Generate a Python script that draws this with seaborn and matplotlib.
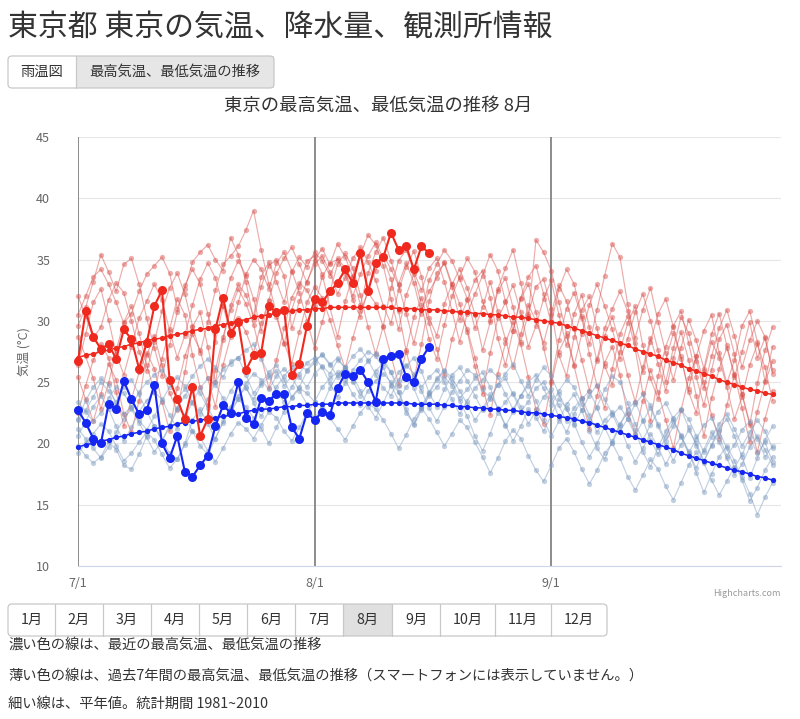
import numpy as np
import pandas as pd
import matplotlib
matplotlib.use("Agg")
import matplotlib.pyplot as plt
from matplotlib.patches import FancyBboxPatch, Rectangle
import seaborn as sns

# ---------------- data ----------------
x_tick_labels = ["7/1", "8/1", "9/1"]
x_tick_days = [0, 31, 62]
y_ticks = [10, 15, 20, 25, 30, 35, 40, 45]
months = ["1月", "2月", "3月", "4月", "5月", "6月", "7月", "8月", "9月", "10月", "11月", "12月"]

# recent year (dark lines), 7/1 - 8/16
recent_max = [26.7, 30.8, 28.7, 27.7, 28.1, 26.9, 29.3, 28.5, 26.1, 28.2,
              31.2, 32.5, 25.2, 23.6, 22.0, 24.6, 20.6, 22.0, 29.3, 31.9,
              29.0, 29.9, 26.0, 27.2, 27.4, 31.2, 30.7, 30.9, 25.6, 26.5,
              29.6, 31.8, 31.5, 32.4, 33.1, 34.2, 33.1, 35.5, 32.4, 34.7,
              35.2, 37.2, 35.8, 36.1, 34.2, 36.1, 35.5]
recent_min = [22.7, 21.7, 20.4, 20.0, 23.2, 22.8, 25.1, 23.6, 22.4, 22.7,
              24.8, 20.0, 18.8, 20.6, 17.7, 17.3, 18.2, 19.0, 21.4, 23.1,
              22.5, 25.0, 22.1, 21.6, 23.7, 23.5, 24.0, 24.0, 21.3, 20.4,
              22.5, 21.9, 22.6, 22.3, 24.5, 25.7, 25.5, 26.0, 25.0, 23.4,
              26.9, 27.1, 27.3, 25.4, 25.0, 26.9, 27.9]

# normals 1981-2010, 7/1 - 9/30
normal_max = [27.0, 27.2, 27.3, 27.5, 27.6, 27.8, 27.9, 28.1, 28.2, 28.4,
              28.5, 28.6, 28.8, 28.9, 29.0, 29.2, 29.3, 29.4, 29.6, 29.7,
              29.8, 30.0, 30.1, 30.3, 30.4, 30.5, 30.6, 30.7, 30.8, 30.9,
              30.9, 31.0, 31.0, 31.1, 31.1, 31.1, 31.1, 31.1, 31.1, 31.1,
              31.1, 31.1, 31.0, 31.0, 31.0, 30.9, 30.9, 30.9, 30.8, 30.8,
              30.7, 30.7, 30.6, 30.6, 30.5, 30.5, 30.4, 30.3, 30.3, 30.2,
              30.1, 30.0, 29.9, 29.8, 29.6, 29.4, 29.2, 29.0, 28.8, 28.6,
              28.4, 28.2, 28.0, 27.7, 27.5, 27.3, 27.1, 26.8, 26.6, 26.4,
              26.1, 25.9, 25.7, 25.5, 25.2, 25.0, 24.8, 24.6, 24.4, 24.3,
              24.1, 24.0]
normal_min = [19.7, 19.9, 20.0, 20.2, 20.3, 20.5, 20.6, 20.8, 20.9, 21.0,
              21.2, 21.3, 21.4, 21.6, 21.7, 21.8, 21.9, 22.0, 22.1, 22.2,
              22.3, 22.4, 22.6, 22.7, 22.8, 22.8, 22.9, 23.0, 23.0, 23.1,
              23.1, 23.2, 23.2, 23.2, 23.3, 23.3, 23.3, 23.3, 23.3, 23.3,
              23.3, 23.3, 23.3, 23.3, 23.2, 23.2, 23.2, 23.2, 23.1, 23.1,
              23.0, 23.0, 22.9, 22.9, 22.8, 22.8, 22.7, 22.7, 22.6, 22.5,
              22.5, 22.4, 22.3, 22.2, 22.1, 22.0, 21.8, 21.7, 21.5, 21.3,
              21.1, 20.9, 20.7, 20.5, 20.3, 20.1, 19.9, 19.7, 19.5, 19.2,
              19.0, 18.8, 18.6, 18.4, 18.2, 18.0, 17.8, 17.7, 17.5, 17.3,
              17.2, 17.0]

# past 7 years (light lines), 7/1 - 9/30
past_max_1 = [30.5, 32.0, 33.6, 34.2, 33.0, 31.5, 29.8, 30.6, 32.4, 33.8,
              34.5, 35.2, 33.9, 31.0, 32.6, 34.8, 35.6, 36.2, 35.0, 34.1,
              36.8, 35.4, 33.2, 30.1, 32.8, 34.5, 35.0, 33.7, 29.4, 31.6,
              33.2, 34.6, 35.3, 34.0, 32.2, 33.5, 35.1, 36.0, 34.8, 33.3,
              31.2, 29.8, 32.5, 34.4, 35.7, 33.6, 30.2, 28.8, 31.4, 33.0,
              34.2, 32.7, 30.5, 27.6, 29.9, 32.4, 33.5, 31.1, 28.3, 30.6,
              32.8, 33.4, 31.0, 27.2, 25.5, 28.7, 30.9, 32.0, 29.4, 26.3,
              24.8, 27.5, 29.8, 31.2, 28.0, 25.3, 23.6, 26.8, 29.0, 27.1,
              24.2, 22.5, 25.9, 28.3, 27.0, 24.6, 22.0, 23.8, 26.4, 28.1,
              26.2, 23.5]
past_max_2 = [25.4, 23.6, 21.8, 24.0, 26.5, 25.2, 22.4, 20.9, 23.5, 27.2,
              28.8, 26.4, 24.1, 22.7, 25.8, 29.5, 30.7, 27.9, 25.0, 28.4,
              31.3, 33.0, 32.1, 30.4, 33.6, 34.8, 33.2, 31.5, 34.0, 35.2,
              34.4, 35.6, 34.9, 33.7, 35.1, 34.3, 32.0, 33.8, 35.3, 36.4,
              35.1, 33.4, 30.8, 27.5, 25.2, 28.1, 31.6, 33.9, 34.7, 32.8,
              30.1, 31.7, 33.3, 34.1, 31.9, 28.6, 26.4, 29.2, 31.8, 33.0,
              30.7, 27.8, 25.1, 28.4, 31.0, 32.3, 30.2, 27.3, 24.7, 22.9,
              26.1, 28.9, 30.4, 27.7, 24.1, 21.8, 25.5, 27.9, 29.6, 30.8,
              28.2, 25.4, 23.1, 26.0, 28.5, 29.7, 27.3, 24.0, 21.5, 24.9,
              27.6, 29.5]
past_max_3 = [28.7, 27.1, 25.3, 22.8, 24.9, 27.6, 29.9, 31.2, 29.0, 26.4,
              24.2, 26.9, 29.3, 31.8, 30.5, 27.2, 24.6, 23.1, 26.0, 28.7,
              30.9, 32.6, 31.4, 29.7, 27.1, 24.5, 26.8, 29.4, 31.9, 33.1,
              32.5, 31.2, 33.6, 34.7, 35.0, 33.9, 31.7, 30.3, 32.6, 34.1,
              35.4, 34.2, 32.9, 30.6, 28.2, 30.9, 32.4, 33.5, 34.8, 33.0,
              31.4, 29.1, 26.3, 24.0, 27.4, 30.2, 31.5, 32.9, 30.7, 27.9,
              29.6, 31.8, 33.3, 30.5, 28.0, 30.6, 32.1, 29.5, 26.7, 28.8,
              30.3, 28.1, 25.6, 23.4, 26.2, 28.6, 26.5, 24.3, 27.0, 29.1,
              26.8, 23.9, 20.6, 23.7, 26.1, 27.8, 25.7, 22.9, 20.1, 22.6,
              25.0, 26.7]
past_max_4 = [32.0, 30.4, 28.6, 29.5, 31.7, 33.1, 32.3, 30.0, 27.5, 25.9,
              28.3, 30.8, 32.7, 33.9, 32.2, 29.6, 27.4, 29.9, 32.5, 34.6,
              35.3, 36.1, 37.4, 39.0, 35.8, 33.0, 30.6, 28.1, 30.9, 32.8,
              34.9, 35.3, 33.8, 31.1, 28.7, 31.6, 33.7, 35.4, 37.0, 36.2,
              34.5, 31.8, 29.3, 32.1, 33.8, 31.3, 28.5, 26.9, 29.7, 32.0,
              33.6, 35.1, 34.0, 31.6, 30.1, 32.6, 34.3, 35.8, 33.1, 30.4,
              36.6, 35.6, 34.1, 31.5, 29.0, 26.4, 28.9, 31.3, 33.0, 31.2,
              29.3, 26.9, 28.5, 30.7, 32.2, 30.0, 27.6, 25.0, 27.8, 30.3,
              29.0, 26.7, 24.5, 27.1, 29.4, 30.9, 28.8, 26.2, 28.4, 30.0,
              28.7, 25.7]
past_max_5 = [26.4, 28.9, 31.5, 32.6, 30.1, 27.3, 25.6, 27.9, 30.2, 31.6,
              33.0, 31.7, 29.2, 27.0, 28.8, 31.3, 33.4, 34.7, 33.5, 31.2,
              29.0, 31.5, 33.8, 35.0, 34.2, 32.6, 34.7, 35.6, 34.1, 32.3,
              30.0, 27.8, 29.9, 32.4, 34.6, 35.5, 34.3, 32.1, 29.5, 27.3,
              29.6, 32.7, 34.9, 35.8, 34.0, 32.5, 34.3, 35.1, 33.2, 30.8,
              28.3, 30.6, 32.2, 33.7, 35.4, 34.1, 31.6, 29.2, 31.9, 33.6,
              34.5, 32.2, 29.8, 32.6, 34.2, 33.0, 30.4, 28.1, 30.9, 33.7,
              36.3, 35.2, 31.4, 28.2, 25.8, 28.3, 30.6, 31.8, 29.5, 26.9,
              24.4, 27.1, 29.2, 30.5, 27.4, 24.9, 26.8, 29.6, 30.8, 28.3,
              25.1, 27.9]
past_max_6 = [22.5, 24.7, 26.8, 28.1, 27.0, 24.2, 21.4, 23.6, 25.8, 27.4,
              26.1, 23.4, 21.0, 24.5, 27.1, 28.9, 27.6, 25.3, 23.0, 26.4,
              28.7, 30.2, 29.1, 27.4, 29.8, 31.6, 30.3, 28.2, 26.5, 29.1,
              31.5, 32.8, 31.9, 30.1, 28.0, 26.1, 28.6, 30.8, 32.3, 31.4,
              29.5, 27.2, 24.8, 27.6, 30.3, 31.9, 29.8, 27.7, 25.6, 28.5,
              30.7, 29.3, 27.0, 24.6, 22.3, 25.7, 28.2, 29.9, 28.1, 25.4,
              22.8, 21.6, 24.9, 27.5, 28.8, 26.3, 23.7, 21.2, 23.9, 26.6,
              27.9, 25.6, 22.4, 20.8, 23.5, 26.0, 24.2, 21.9, 19.6, 22.7,
              25.3, 27.1, 25.0, 22.3, 20.4, 23.1, 25.6, 24.0, 21.7, 19.3,
              22.0, 24.3]
past_max_7 = [29.6, 31.1, 33.2, 35.4, 34.0, 32.4, 34.6, 35.1, 33.0, 30.2,
              27.8, 25.5, 28.0, 30.7, 32.9, 34.2, 33.0, 30.6, 28.3, 31.2,
              33.5, 34.9, 33.7, 31.8, 29.2, 31.7, 33.9, 35.1, 36.0, 34.6,
              33.1, 35.0, 35.9, 34.6, 36.3, 35.2, 33.6, 31.3, 33.9, 35.6,
              36.8, 34.9, 33.0, 34.7, 33.1, 30.6, 33.3, 34.6, 35.8, 34.9,
              33.4, 31.8, 29.4, 31.1, 33.2, 30.8, 28.5, 26.2, 28.9, 31.3,
              30.0, 28.2, 30.6, 32.9, 31.6, 29.3, 26.8, 24.3, 26.9, 29.4,
              31.0, 32.4, 30.8, 28.6, 30.9, 32.7, 29.9, 27.4, 25.2, 27.8,
              30.1, 28.4, 26.1, 28.9, 30.6, 28.0, 25.4, 27.5, 29.9, 27.0,
              28.6, 26.0]

past_min_1 = [22.0, 23.5, 24.6, 25.3, 24.8, 23.1, 22.4, 23.0, 24.2, 25.0,
              25.6, 26.0, 25.1, 23.7, 24.4, 25.5, 26.3, 26.9, 26.2, 25.4,
              26.7, 27.0, 25.6, 24.1, 24.9, 25.8, 26.4, 25.2, 23.8, 24.6,
              25.9, 26.6, 27.3, 26.5, 25.4, 26.2, 27.1, 27.7, 26.8, 25.6,
              24.5, 23.9, 25.2, 26.3, 27.0, 25.9, 24.1, 23.0, 24.4, 25.6,
              26.2, 25.1, 23.9, 22.7, 23.6, 24.8, 25.3, 24.0, 22.6, 23.4,
              24.5, 25.0, 23.8, 22.1, 20.9, 22.4, 23.6, 24.3, 22.9, 21.3,
              20.0, 21.5, 22.8, 23.4, 21.9, 20.3, 19.1, 20.6, 21.8, 20.7,
              19.2, 18.0, 19.5, 20.9, 20.1, 18.8, 17.4, 18.3, 19.7, 20.6,
              19.5, 18.2]
past_min_2 = [19.8, 19.0, 18.4, 18.9, 20.1, 19.5, 18.2, 17.9, 19.1, 20.6,
              21.4, 20.3, 19.2, 18.7, 20.0, 21.9, 22.8, 21.6, 20.4, 21.8,
              23.0, 23.9, 24.5, 23.6, 24.8, 25.4, 25.9, 24.7, 25.5, 26.3,
              26.0, 26.8, 27.2, 26.4, 27.0, 26.1, 25.0, 25.9, 26.7, 27.4,
              26.9, 25.8, 24.2, 22.5, 21.6, 22.9, 24.0, 25.2, 25.9, 25.0,
              23.7, 24.4, 25.3, 25.8, 24.6, 22.8, 21.4, 22.6, 23.9, 24.7,
              23.5, 21.9, 20.6, 21.8, 23.2, 24.0, 22.7, 21.0, 19.6, 18.7,
              20.2, 21.6, 22.5, 21.1, 19.3, 18.1, 19.7, 21.0, 22.1, 22.8,
              21.3, 19.8, 18.5, 19.9, 21.2, 22.0, 20.6, 18.9, 17.2, 18.8,
              20.3, 21.4]
past_min_3 = [21.2, 20.4, 19.6, 18.8, 19.7, 20.9, 22.0, 22.8, 21.7, 20.5,
              19.3, 20.2, 21.5, 22.9, 22.3, 21.0, 19.8, 19.1, 20.4, 21.7,
              22.8, 23.6, 23.0, 22.1, 21.2, 20.0, 21.3, 22.6, 23.7, 24.5,
              24.1, 23.4, 24.6, 25.3, 25.8, 25.2, 24.0, 23.1, 24.3, 25.1,
              25.7, 25.0, 24.2, 22.8, 21.5, 22.7, 23.9, 24.6, 25.4, 24.7,
              23.5, 22.2, 20.6, 19.4, 20.8, 22.5, 23.4, 24.1, 23.0, 21.6,
              22.7, 23.8, 24.4, 23.1, 21.8, 22.9, 23.7, 22.3, 20.9, 21.9,
              22.6, 21.4, 19.8, 18.5, 19.6, 20.8, 19.7, 18.3, 19.5, 20.6,
              19.4, 17.6, 16.0, 17.5, 18.9, 19.8, 18.6, 17.0, 15.3, 16.4,
              17.8, 18.9]
past_min_4 = [23.4, 22.6, 21.8, 22.5, 23.7, 24.6, 24.1, 23.0, 21.9, 21.1,
              22.2, 23.5, 24.6, 25.4, 24.7, 23.3, 22.4, 23.6, 25.0, 26.1,
              26.5, 27.0, 27.6, 28.1, 26.9, 25.6, 24.2, 23.4, 24.6, 25.7,
              26.6, 27.0, 26.2, 24.9, 23.8, 24.9, 26.0, 26.8, 27.5, 27.1,
              26.2, 24.8, 23.5, 24.6, 25.5, 24.3, 22.9, 21.8, 23.0, 24.2,
              25.1, 26.0, 25.6, 24.4, 23.7, 24.8, 25.7, 26.5, 25.1, 23.9,
              25.2, 26.2, 25.5, 24.0, 22.8, 21.5, 22.7, 23.9, 24.8, 23.6,
              22.4, 21.0, 22.0, 23.2, 24.0, 23.1, 21.6, 20.2, 21.4, 22.7,
              22.0, 20.6, 19.3, 20.5, 21.6, 22.4, 21.2, 19.8, 20.9, 21.9,
              21.0, 19.6]
past_min_5 = [20.6, 21.8, 23.0, 23.9, 22.8, 21.4, 20.2, 21.3, 22.6, 23.5,
              24.2, 23.6, 22.3, 21.2, 22.1, 23.4, 24.5, 25.3, 24.8, 23.7,
              22.5, 23.6, 24.9, 25.7, 25.2, 24.4, 25.5, 26.1, 25.4, 24.3,
              23.2, 22.0, 23.1, 24.5, 25.6, 26.2, 25.5, 24.3, 23.0, 22.1,
              23.3, 24.7, 25.8, 26.4, 25.7, 24.6, 25.4, 26.0, 25.0, 23.6,
              22.4, 23.5, 24.5, 25.2, 26.0, 25.4, 24.0, 22.8, 23.9, 25.0,
              25.6, 24.5, 23.1, 24.3, 25.2, 24.6, 23.2, 21.9, 23.0, 24.4,
              25.5, 25.0, 23.3, 21.6, 20.3, 21.5, 22.6, 23.3, 22.0, 20.5,
              19.2, 20.4, 21.5, 22.1, 20.6, 19.0, 19.9, 21.1, 21.8, 20.4,
              18.9, 19.8]
past_min_6 = [19.2, 20.0, 20.8, 21.6, 21.0, 19.8, 18.6, 19.2, 20.1, 20.9,
              20.3, 19.1, 18.0, 18.7, 19.9, 21.0, 20.5, 19.4, 18.5, 19.6,
              20.8, 21.7, 21.2, 20.4, 21.5, 22.6, 22.1, 21.0, 20.2, 21.3,
              22.5, 23.4, 23.0, 22.1, 21.2, 20.3, 21.4, 22.5, 23.3, 22.8,
              21.9, 20.8, 19.6, 20.7, 22.0, 22.9, 22.0, 20.9, 19.8, 20.8,
              21.9, 21.3, 20.1, 18.9, 17.6, 18.8, 20.2, 21.1, 20.4, 19.0,
              17.8, 16.9, 18.2, 19.6, 20.4, 19.3, 17.9, 16.7, 17.8, 19.2,
              20.0, 18.8, 17.3, 16.2, 17.4, 18.7, 17.9, 16.5, 15.4, 16.8,
              18.2, 19.3, 18.4, 17.0, 15.8, 16.9, 18.1, 17.3, 15.9, 14.2,
              15.6, 16.8]
past_min_7 = [21.9, 22.7, 23.8, 25.0, 24.3, 23.4, 24.6, 25.2, 24.0, 22.6,
              21.4, 20.2, 21.3, 22.8, 23.9, 24.8, 24.1, 22.9, 21.8, 23.0,
              24.3, 25.2, 24.6, 23.3, 22.2, 23.4, 24.6, 25.5, 26.2, 25.4,
              24.6, 25.7, 26.3, 25.7, 26.8, 26.2, 25.1, 23.9, 24.9, 25.9,
              26.6, 25.8, 24.7, 25.6, 24.5, 23.0, 24.2, 25.3, 26.0, 25.3,
              24.3, 23.2, 21.9, 22.8, 24.0, 22.9, 21.5, 20.2, 21.4, 22.8,
              22.1, 21.0, 22.3, 23.6, 22.9, 21.6, 20.1, 18.9, 20.0, 21.4,
              22.3, 23.0, 22.0, 20.7, 21.8, 22.9, 21.4, 19.9, 18.6, 19.9,
              21.1, 20.0, 18.6, 19.8, 21.0, 19.6, 18.0, 19.1, 20.5, 19.2,
              20.1, 18.5]

past_max = [past_max_1, past_max_2, past_max_3, past_max_4, past_max_5, past_max_6, past_max_7]
past_min = [past_min_1, past_min_2, past_min_3, past_min_4, past_min_5, past_min_6, past_min_7]


def long_frame(series_list):
    rows = []
    for k, vals in enumerate(series_list):
        for d, v in enumerate(vals):
            rows.append((k, d, v))
    return pd.DataFrame(rows, columns=["year", "day", "temp"])


df_pmax = long_frame(past_max)
df_pmin = long_frame(past_min)
df_nmax = pd.DataFrame({"day": range(len(normal_max)), "temp": normal_max})
df_nmin = pd.DataFrame({"day": range(len(normal_min)), "temp": normal_min})
df_rmax = pd.DataFrame({"day": range(len(recent_max)), "temp": recent_max})
df_rmin = pd.DataFrame({"day": range(len(recent_min)), "temp": recent_min})

# ---------------- style ----------------
sns.set_theme(style="white")
plt.rcParams["font.family"] = ["Noto Sans CJK JP", "DejaVu Sans"]

W, H = 800, 719
fig = plt.figure(figsize=(W / 100, H / 100), dpi=100)
fig.patch.set_facecolor("white")

# overlay for page elements (pixel coordinates)
ov = fig.add_axes([0, 0, 1, 1], zorder=0)
ov.set_xlim(0, W)
ov.set_ylim(H, 0)
ov.axis("off")
ov.patch.set_alpha(0)

L, R, T, B = 78, 781, 137, 566
ax = fig.add_axes([L / W, 1 - B / H, (R - L) / W, (B - T) / H], zorder=1)
ax.patch.set_alpha(0)

DARK_RED = "#f0291e"
DARK_BLUE = "#1526f2"
LIGHT_RED = "#d9534f"
LIGHT_BLUE = "#7f9cc2"

sns.lineplot(data=df_pmax, x="day", y="temp", units="year", estimator=None, ax=ax,
             color=LIGHT_RED, alpha=0.48, linewidth=0.85, marker="o", markersize=3.8,
             markeredgewidth=0, clip_on=False, legend=False)
sns.lineplot(data=df_pmin, x="day", y="temp", units="year", estimator=None, ax=ax,
             color=LIGHT_BLUE, alpha=0.48, linewidth=0.85, marker="o", markersize=3.8,
             markeredgewidth=0, clip_on=False, legend=False)
sns.lineplot(data=df_nmax, x="day", y="temp", ax=ax, color=DARK_RED, linewidth=1.1,
             marker="o", markersize=3.8, markeredgewidth=0, clip_on=False, legend=False)
sns.lineplot(data=df_nmin, x="day", y="temp", ax=ax, color=DARK_BLUE, linewidth=1.1,
             marker="o", markersize=3.8, markeredgewidth=0, clip_on=False, legend=False)
sns.lineplot(data=df_rmax, x="day", y="temp", ax=ax, color=DARK_RED, linewidth=1.5,
             marker="o", markersize=6.5, markeredgewidth=0, clip_on=False, legend=False)
sns.lineplot(data=df_rmin, x="day", y="temp", ax=ax, color=DARK_BLUE, linewidth=1.5,
             marker="o", markersize=6.5, markeredgewidth=0, clip_on=False, legend=False)

ax.set_xlim(0, 92.1)
ax.set_ylim(10, 45)
ax.set_yticks(y_ticks)
ax.set_yticklabels([str(v) for v in y_ticks])
ax.set_xticks(x_tick_days)
ax.set_xticklabels(x_tick_labels)
ax.tick_params(axis="y", length=0, pad=20, labelsize=9, labelcolor="#666666")
ax.tick_params(axis="x", length=0, pad=8, labelsize=9, labelcolor="#666666")
for yv in y_ticks:
    ax.axhline(yv, color="#e6e6e6", linewidth=0.8, zorder=0)
for xv in x_tick_days:
    ax.axvline(xv, color="#8c8c8c", linewidth=1.4, zorder=0.5)
for s in ["top", "right", "left"]:
    ax.spines[s].set_visible(False)
ax.spines["bottom"].set_color("#ccd6eb")
ax.spines["bottom"].set_linewidth(0.8)
ax.set_xlabel("")
ax.set_ylabel("気温 (°C)", fontsize=9, color="#666666")
ax.yaxis.set_label_coords(-0.068, 0.5)

# ---------------- page elements ----------------
TXT = "#333333"
ov.text(8, 27, "東京都 東京の気温、降水量、観測所情報", fontsize=21.5, color=TXT,
        ha="left", va="center")

# view toggle buttons
ov.add_patch(Rectangle((76, 56), 198, 32, facecolor="#e6e6e6", edgecolor="none"))
ov.add_patch(FancyBboxPatch((8, 56), 266, 32, boxstyle="round,pad=0,rounding_size=4",
                            facecolor="none", edgecolor="#c8c8c8", linewidth=0.9))
ov.plot([76, 76], [56, 88], color="#c8c8c8", linewidth=0.9)
ov.text(42, 72, "雨温図", fontsize=10.3, color=TXT, ha="center", va="center")
ov.text(175, 72, "最高気温、最低気温の推移", fontsize=10.3, color=TXT, ha="center", va="center")

ov.text(378, 106, "東京の最高気温、最低気温の推移 8月", fontsize=13.2, color=TXT,
        ha="center", va="center")
ov.text(781, 594, "Highcharts.com", fontsize=6.5, color="#999999", ha="right", va="center")

# month buttons
edges = [8, 55, 103, 151, 199, 247, 295, 343, 392, 440, 495, 551, 607]
ov.add_patch(Rectangle((edges[7], 604), edges[8] - edges[7], 32, facecolor="#e0e0e0",
                       edgecolor="none"))
ov.add_patch(FancyBboxPatch((edges[0], 604), edges[-1] - edges[0], 32,
                            boxstyle="round,pad=0,rounding_size=4",
                            facecolor="none", edgecolor="#c8c8c8", linewidth=0.9))
for e in edges[1:-1]:
    ov.plot([e, e], [604, 636], color="#c8c8c8", linewidth=0.9)
for i, m in enumerate(months):
    ov.text((edges[i] + edges[i + 1]) / 2, 620, m, fontsize=10.3, color=TXT,
            ha="center", va="center")

ov.text(8, 645, "濃い色の線は、最近の最高気温、最低気温の推移", fontsize=10.3, color=TXT,
        ha="left", va="center")
ov.text(8, 676, "薄い色の線は、過去7年間の最高気温、最低気温の推移（スマートフォンには表示していません。）",
        fontsize=10.3, color=TXT, ha="left", va="center")
ov.text(8, 704, "細い線は、平年値。統計期間 1981~2010", fontsize=10.3, color=TXT,
        ha="left", va="center")

fig.savefig("out.png", dpi=100, facecolor="white")
